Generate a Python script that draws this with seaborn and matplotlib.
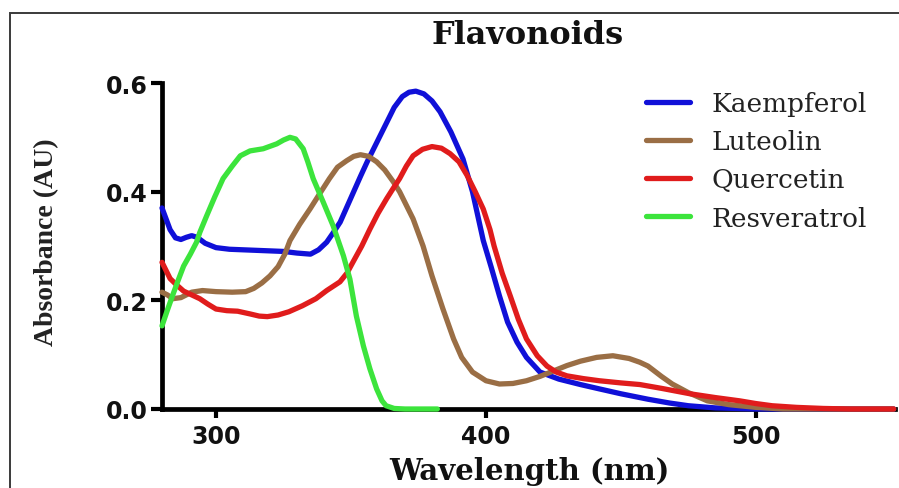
import numpy as np
import pandas as pd
import matplotlib
matplotlib.use("Agg")
import matplotlib.pyplot as plt
from matplotlib.patches import Rectangle
import seaborn as sns

# UV-Vis absorbance spectra (wavelength in nm, absorbance in AU)
kaempferol_nm = [280, 281.5, 283, 285, 287, 289, 291, 293, 296, 300, 305, 310, 315, 320,
                 325, 330, 335, 338, 341, 343.5, 346, 348.5, 351, 353.5, 356, 358.5, 361,
                 363.5, 366, 369, 371.5, 374, 377, 380, 383, 387, 391.5, 395, 399, 402,
                 405, 408, 411.5, 415, 420, 427, 435, 442, 450, 460, 468, 475, 485, 500, 551]
kaempferol_au = [0.37, 0.35, 0.33, 0.315, 0.312, 0.316, 0.319, 0.316, 0.305, 0.297, 0.294,
                 0.293, 0.292, 0.291, 0.290, 0.287, 0.285, 0.293, 0.307, 0.325, 0.344, 0.372,
                 0.40, 0.428, 0.455, 0.48, 0.505, 0.53, 0.555, 0.575, 0.583, 0.585, 0.58,
                 0.567, 0.547, 0.51, 0.46, 0.40, 0.31, 0.26, 0.208, 0.16, 0.123, 0.095,
                 0.068, 0.055, 0.045, 0.037, 0.028, 0.018, 0.011, 0.006, 0.002, 0.0, 0.0]

luteolin_nm = [280, 282, 284, 287, 291, 295, 300, 306, 311, 314, 317, 320, 323, 325.5,
               327.4, 331, 334.8, 338.5, 342, 345, 348.4, 351, 353.5, 356.5, 359.5, 362.5,
               365.7, 368, 370.5, 373, 376.7, 380, 384, 388, 391, 395, 400, 405, 410, 415,
               420, 424, 430, 435, 441, 447, 453, 457, 460, 465, 469, 475, 482, 490, 500,
               510, 551]
luteolin_au = [0.215, 0.21, 0.203, 0.205, 0.215, 0.218, 0.216, 0.215, 0.216, 0.222, 0.232,
               0.245, 0.262, 0.285, 0.31, 0.34, 0.368, 0.397, 0.424, 0.445, 0.457, 0.465,
               0.468, 0.465, 0.455, 0.44, 0.418, 0.40, 0.375, 0.35, 0.30, 0.245, 0.185,
               0.129, 0.095, 0.068, 0.052, 0.046, 0.047, 0.052, 0.06, 0.068, 0.08, 0.088,
               0.095, 0.098, 0.093, 0.086, 0.079, 0.06, 0.046, 0.03, 0.015, 0.008, 0.003,
               0.0, 0.0]

quercetin_nm = [280, 281.5, 283, 285.5, 288, 291, 294, 297, 300, 304, 308, 312.6, 316, 319,
                323, 327, 332, 337, 341, 345.9, 348.5, 350.8, 354, 357, 360, 363.2, 365.5,
                368, 370.5, 373, 376.5, 380, 383.5, 386.7, 390, 393, 396, 399, 401.5, 403,
                406, 409, 412, 415, 419, 422.6, 426, 430, 436, 442, 450, 457, 465, 475.6,
                485, 494, 500, 506, 515, 525, 535, 551]
quercetin_au = [0.27, 0.255, 0.24, 0.228, 0.217, 0.21, 0.203, 0.193, 0.184, 0.181, 0.18,
                0.175, 0.171, 0.17, 0.173, 0.179, 0.19, 0.203, 0.218, 0.234, 0.25, 0.271,
                0.30, 0.331, 0.36, 0.387, 0.405, 0.424, 0.447, 0.466, 0.478, 0.483, 0.48,
                0.47, 0.455, 0.43, 0.40, 0.368, 0.33, 0.30, 0.25, 0.208, 0.165, 0.129,
                0.098, 0.079, 0.068, 0.061, 0.056, 0.052, 0.048, 0.045, 0.038, 0.028,
                0.021, 0.015, 0.01, 0.006, 0.003, 0.001, 0.0, 0.0]

resveratrol_nm = [280, 282, 284, 286, 288, 290.5, 292.8, 294, 296.5, 299.5, 302.6, 306, 309,
                  312.6, 317.5, 322.5, 325, 327.4, 329.5, 332.3, 334, 336, 339.7, 343.4,
                  347.2, 349.6, 352, 354.6, 357, 359.5, 361.5, 363, 366, 370, 382]
resveratrol_au = [0.153, 0.182, 0.21, 0.237, 0.263, 0.285, 0.307, 0.325, 0.355, 0.39, 0.424,
                  0.447, 0.466, 0.475, 0.479, 0.488, 0.495, 0.50, 0.497, 0.479, 0.455, 0.424,
                  0.381, 0.337, 0.282, 0.239, 0.171, 0.116, 0.074, 0.037, 0.015, 0.006,
                  0.001, 0.0, 0.0]

compounds = ["Kaempferol", "Luteolin", "Quercetin", "Resveratrol"]
colors = ["#1010d8", "#9a6e45", "#e01c1c", "#3ce43c"]
x_ticks = [300, 400, 500]
y_ticks = [0.0, 0.2, 0.4, 0.6]

frames = []
for name, nm, au in zip(compounds,
                        [kaempferol_nm, luteolin_nm, quercetin_nm, resveratrol_nm],
                        [kaempferol_au, luteolin_au, quercetin_au, resveratrol_au]):
    frames.append(pd.DataFrame({"Wavelength": nm, "Absorbance": au, "Compound": name}))
spectra = pd.concat(frames, ignore_index=True)

sns.set_style("white")
plt.rcParams["font.family"] = ["DejaVu Sans"]

W, H = 899, 489
fig = plt.figure(figsize=(W / 100, H / 100), dpi=100)
ax = fig.add_axes([162 / W, 1 - 410 / H, (895 - 162) / W, (410 - 84) / H])

sns.lineplot(data=spectra, x="Wavelength", y="Absorbance", hue="Compound",
             hue_order=compounds, palette=colors, estimator=None, sort=False,
             linewidth=3.8, ax=ax, clip_on=False,
             solid_joinstyle="round", solid_capstyle="round")

ax.set_xlim(280, 551.5)
ax.set_ylim(0, 0.6)
ax.set_xticks(x_ticks)
ax.set_yticks(y_ticks)
ax.set_yticklabels([f"{v:.1f}" for v in y_ticks])
ax.set_xlabel("")
ax.set_ylabel("")

for side in ["top", "right"]:
    ax.spines[side].set_visible(False)
for side in ["left", "bottom"]:
    ax.spines[side].set_linewidth(3.4)
    ax.spines[side].set_color("black")
    ax.spines[side].set_zorder(1)

ax.tick_params(axis="both", direction="out", width=3, color="black",
               labelsize=17, bottom=True, left=True)
ax.tick_params(axis="x", length=6.5, pad=4)
ax.tick_params(axis="y", length=8, pad=2)
for lbl in ax.get_xticklabels() + ax.get_yticklabels():
    lbl.set_fontweight("bold")
    lbl.set_color("#111111")

handles, labels = ax.get_legend_handles_labels()
ax.get_legend().remove()
leg = fig.legend(handles, labels, loc="upper left",
                 bbox_to_anchor=(646 / W, 1 - 92 / H), frameon=False,
                 prop={"family": "DejaVu Serif", "size": 19},
                 handlelength=1.67, handletextpad=0.8, labelspacing=0.5,
                 borderpad=0, borderaxespad=0)
for line in leg.get_lines():
    line.set_linewidth(3.8)
for t in leg.get_texts():
    t.set_color("#222222")

fig.text(528 / W, 1 - 36 / H, "Flavonoids", ha="center", va="center",
         family="DejaVu Serif", fontweight="bold", fontsize=23, color="#111111")
fig.text(529 / W, 1 - 472 / H, "Wavelength (nm)", ha="center", va="center",
         family="DejaVu Serif", fontweight="bold", fontsize=21, color="#111111")
fig.text(47 / W, 1 - 242 / H, "Absorbance (AU)", ha="center", va="center",
         rotation=90, family="Liberation Serif", fontweight="bold", fontsize=20,
         color="#222222")

fig.patches.append(Rectangle((10 / W, -0.2), 1.2, 1.2 - 14 / H, transform=fig.transFigure,
                             fill=False, edgecolor="#3a3a3a", linewidth=1.4, zorder=0))

fig.savefig("out.png", dpi=100, facecolor="white")
